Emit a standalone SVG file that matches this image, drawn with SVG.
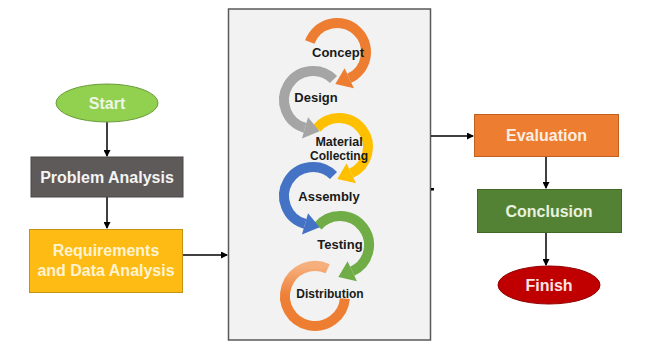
<svg xmlns="http://www.w3.org/2000/svg" width="646" height="345" viewBox="0 0 646 345">
<style>
.lbl{font-family:"Liberation Sans",Arial,sans-serif;font-weight:bold;font-size:16px;text-anchor:middle}
.ring{fill:none;stroke-width:10}
.rt{font-family:"Liberation Sans",Arial,sans-serif;font-weight:bold;fill:#1a1a1a;text-anchor:middle}
.con{fill:none;stroke:#000;stroke-width:1.5}
</style>
<defs>
<marker id="ah" markerWidth="7" markerHeight="7" refX="6" refY="3.5" orient="auto" markerUnits="userSpaceOnUse">
<path d="M0,0 L7,3.5 L0,7 z" fill="#000"/>
</marker>
<polygon id="hcw" points="18,0 40,0 28.3,15"/>
<polygon id="hccw" points="18,0 40,0 28.3,-15"/>
<linearGradient id="distg" x1="0" y1="0" x2="0" y2="1">
<stop offset="0" stop-color="#f6b07e"/>
<stop offset="0.5" stop-color="#ee7f35"/>
<stop offset="1" stop-color="#ed7d31"/>
</linearGradient>
</defs>
<rect width="646" height="345" fill="#fff"/>

<g id="panel">
<rect x="228.5" y="9" width="202" height="331" fill="#f2f2f2" stroke="#595959" stroke-width="1.5"/>
<rect x="431" y="188" width="3" height="2.5" fill="#000"/>
</g>

<g id="cycle">
<g id="distribution">
<path class="ring" stroke="url(#distg)" d="M327.68 268.81 A30 30 0 1 0 344.89 298.62"/>
</g>
<g id="testing" fill="#70ad47">
<path class="ring" stroke="#70ad47" d="M317.79 226.36 A29 29 0 1 1 352.26 271.28"/>
<use href="#hcw" transform="translate(340,245) rotate(65)"/>
</g>
<g id="assembly" fill="#4472c4">
<path class="ring" stroke="#4472c4" d="M333.51 175.49 A29 29 0 1 0 305.01 223.88"/>
<use href="#hccw" transform="translate(313,196) rotate(106)"/>
</g>
<g id="material" fill="#ffc000">
<path class="ring" stroke="#ffc000" d="M316.79 128.36 A29 29 0 1 1 351.26 173.28"/>
<use href="#hcw" transform="translate(339,147) rotate(65)"/>
</g>
<g id="design" fill="#a5a5a5">
<path class="ring" stroke="#a5a5a5" d="M333.51 79.49 A29 29 0 1 0 305.01 127.88"/>
<use href="#hccw" transform="translate(313,100) rotate(106)"/>
</g>
<g id="concept" fill="#ed7d31">
<path class="ring" stroke="#ed7d31" d="M309.75 42.08 A29 29 0 1 1 349.26 78.28"/>
<use href="#hcw" transform="translate(337,52) rotate(65)"/>
</g>
<text class="rt" x="338" y="57" font-size="13">Concept</text>
<text class="rt" x="316" y="102" font-size="13">Design</text>
<text class="rt" x="339" y="146" font-size="12.5">Material</text>
<text class="rt" x="339" y="160" font-size="12">Collecting</text>
<text class="rt" x="329" y="201" font-size="13">Assembly</text>
<text class="rt" x="340" y="249" font-size="13">Testing</text>
<text class="rt" x="330" y="298" font-size="12">Distribution</text>
</g>

<g id="connectors">
<line class="con" x1="107" y1="122" x2="107" y2="156" marker-end="url(#ah)"/>
<line class="con" x1="107" y1="197" x2="107" y2="228" marker-end="url(#ah)"/>
<line class="con" x1="183" y1="255" x2="227" y2="255" marker-end="url(#ah)"/>
<line class="con" x1="431" y1="136" x2="473" y2="136" marker-end="url(#ah)"/>
<line class="con" x1="546" y1="157" x2="546" y2="188" marker-end="url(#ah)"/>
<line class="con" x1="546" y1="233" x2="546" y2="265" marker-end="url(#ah)"/>
</g>

<g id="start">
<ellipse cx="107" cy="103" rx="51" ry="19" fill="#92d050" stroke="#6a9c3a" stroke-width="1"/>
<text class="lbl" x="107" y="109" fill="#eef6e4">Start</text>
</g>
<g id="problem">
<rect x="31" y="157" width="152" height="40" fill="#5e5a5a" stroke="#4a4646" stroke-width="1"/>
<text class="lbl" x="107" y="183" fill="#f4f4f4">Problem Analysis</text>
</g>
<g id="requirements">
<rect x="29.5" y="229.5" width="153" height="63" fill="#fdbb14" stroke="#c59212" stroke-width="1"/>
<text class="lbl" x="106" y="256" fill="#fff3d0">Requirements</text>
<text class="lbl" x="106" y="276" fill="#fff3d0">and Data Analysis</text>
</g>
<g id="evaluation">
<rect x="474.5" y="114.5" width="144" height="42" fill="#ed7d31" stroke="#c0601f" stroke-width="1"/>
<text class="lbl" x="546.5" y="141" fill="#fdeee3">Evaluation</text>
</g>
<g id="conclusion">
<rect x="477.5" y="189.5" width="144" height="43" fill="#548235" stroke="#3f6a27" stroke-width="1"/>
<text class="lbl" x="549" y="217" fill="#e8f2df">Conclusion</text>
</g>
<g id="finish">
<ellipse cx="549" cy="285" rx="51" ry="19" fill="#c00000" stroke="#8f0000" stroke-width="1"/>
<text class="lbl" x="549" y="290.5" fill="#fbe3e3">Finish</text>
</g>
</svg>
